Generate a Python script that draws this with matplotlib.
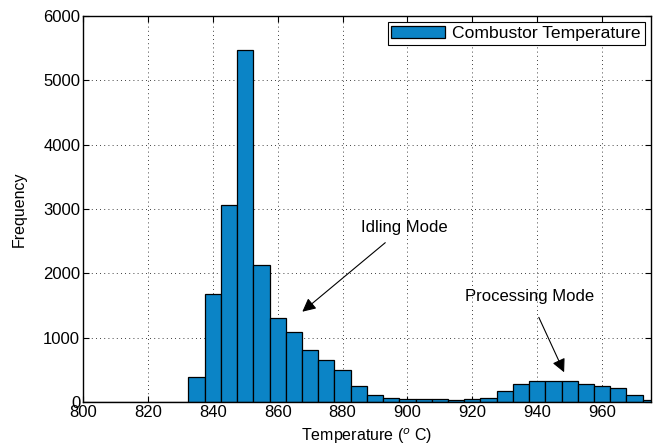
import matplotlib.pyplot as plt
import numpy as np

plt.rcParams['font.family'] = ['Liberation Sans', 'DejaVu Sans']

# histogram bin centres (deg C) and counts
centres = np.arange(800, 980, 5)
counts = [3, 4, 2, 5, 3, 4, 6,
          389, 1686, 3058, 5470, 2137, 1302, 1084, 804, 648, 492, 243,
          115, 62, 47, 42, 52, 37, 52, 68, 171, 286, 322, 333, 322, 286,
          255, 213, 115, 26]

fig = plt.figure(figsize=(6.62, 4.48), dpi=100)
ax = fig.add_axes([0.1254, 0.1027, 0.983 - 0.1254, 0.964 - 0.1027])

ax.bar(centres, counts, width=5, color='#0b84c6', edgecolor='black',
       linewidth=0.9, label='Combustor Temperature', zorder=2)

ax.set_xlim(800, 975)
ax.set_ylim(0, 6000)
ax.set_xticks(np.arange(800, 961, 20))
ax.set_yticks(np.arange(0, 6001, 1000))
ax.grid(True, linestyle=(0, (1, 4)), color='black', linewidth=0.6, zorder=0)
ax.tick_params(direction='in', top=True, right=True, labelsize=12, length=4, pad=2)
for s in ax.spines.values():
    s.set_linewidth(1.0)

ax.set_xlabel('Temperature ($^o$ C)', fontsize=11.5, labelpad=5)
ax.set_ylabel('Frequency', fontsize=11.5, labelpad=12)

ax.annotate('Idling Mode', xy=(867.6, 1404), xytext=(885.6, 2720),
            fontsize=12, va='center', ha='left',
            arrowprops=dict(arrowstyle='-|>', color='black', lw=0.8,
                            mutation_scale=20, shrinkA=6, shrinkB=0))
ax.annotate('Processing Mode', xy=(948.3, 462), xytext=(937.6, 1633),
            fontsize=12, va='center', ha='center',
            arrowprops=dict(arrowstyle='-|>', color='black', lw=0.8,
                            mutation_scale=20, shrinkA=8, shrinkB=0))

leg = ax.legend(loc='upper right', fontsize=12.6, fancybox=False,
                edgecolor='black', framealpha=1, borderaxespad=0.35,
                handlelength=3.1, handletextpad=0.4, borderpad=0.2)
leg.get_frame().set_linewidth(0.8)

fig.savefig('out.png', dpi=100)
